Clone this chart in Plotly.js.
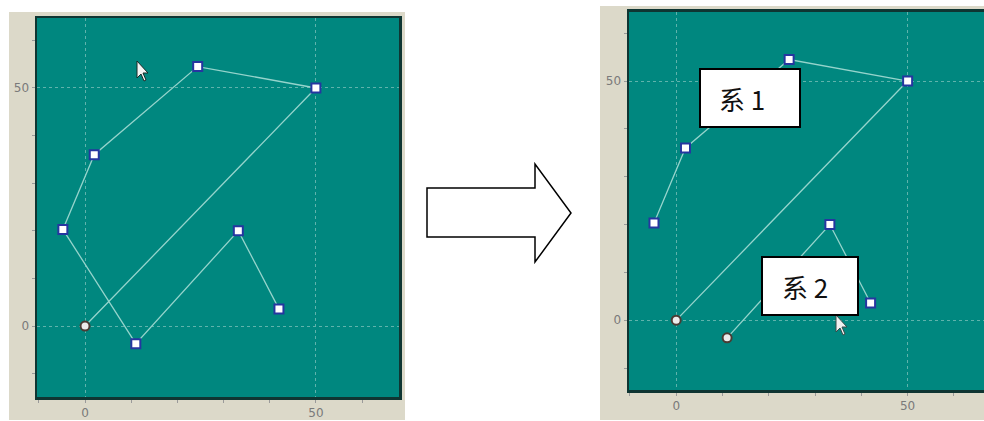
<!DOCTYPE html>
<html>
<head>
<meta charset="utf-8">
<script src="https://cdn.plot.ly/plotly-3.0.1.min.js"></script>
<style>html,body{margin:0;padding:0;background:#fff}#chart{width:984px;height:421px}</style>
</head>
<body>
<div id="chart"></div>
<script>
// Series 1 (upper polygon) and series 2 (lower zig-zag)
const series1X = [0, 50, 24.4, 2, -4.8];
const series1Y = [0, 50, 54.5, 36, 20.3];
const series2X = [11, 33.2, 42];
const series2Y = [-3.7, 20, 3.6];
const seriesLabels = ['系 1', '系 2'];
const tickVals = [0, 50];
const tickText = ['0', '50'];

const W = 984, H = 421;
const px = v => v / W;
const py = v => 1 - v / H;

const TEAL = '#00877f';
const BEIGE = '#dcd9c9';
const LINE = '#95d4cc';
const NAVY = '#2636a0';

function markerFor(n, startGrey) {
  const sym = [], fill = [], edge = [];
  for (let i = 0; i < n; i++) {
    if (i === 0 && startGrey) { sym.push('circle'); fill.push('#ececec'); edge.push('#4a3c34'); }
    else { sym.push('square'); fill.push('#ffffff'); edge.push(NAVY); }
  }
  return {symbol: sym, color: fill, size: 9, line: {color: edge, width: 2}};
}

const leftX = series1X.concat(series2X);
const leftY = series1Y.concat(series2Y);

const traces = [
  {x: leftX, y: leftY, xaxis: 'x', yaxis: 'y', mode: 'lines+markers', type: 'scatter',
   line: {color: LINE, width: 1.3}, marker: markerFor(leftX.length, true), hoverinfo: 'skip'},
  {x: series1X, y: series1Y, xaxis: 'x2', yaxis: 'y2', mode: 'lines+markers', type: 'scatter',
   line: {color: LINE, width: 1.3}, marker: markerFor(series1X.length, true), hoverinfo: 'skip'},
  {x: series2X, y: series2Y, xaxis: 'x2', yaxis: 'y2', mode: 'lines+markers', type: 'scatter',
   line: {color: LINE, width: 1.3}, marker: markerFor(series2X.length, true), hoverinfo: 'skip'}
];

const tickFont = {family: 'DejaVu Sans, sans-serif', size: 12, color: '#7a7a7a'};
function axis(range, domain, mirror) {
  return {
    range: range, domain: domain, tickmode: 'array', tickvals: tickVals, ticktext: tickText,
    showgrid: true, gridcolor: '#5fb3ac', griddash: '3px,3px', gridwidth: 1,
    zeroline: false, showline: true, linecolor: '#0f3532', linewidth: 2.5, mirror: mirror,
    ticks: 'outside', ticklen: 3, tickcolor: '#9a9a9a', tickfont: tickFont,
    minor: {dtick: 10, tick0: 0, ticks: 'outside', ticklen: 3, tickcolor: '#9a9a9a', showgrid: false},
    fixedrange: true
  };
}

function arrowPath() {
  const pts = [[427,188],[535,188],[535,164],[571,213],[535,262],[535,237],[427,237]];
  return 'M' + pts.map(p => px(p[0]) + ',' + py(p[1])).join(' L') + ' Z';
}
function cursorPath(tx, ty) {
  const pts = [[0,0],[0,17],[4,13],[7,20],[9,19],[6,12],[11,12]];
  return 'M' + pts.map(p => px(tx + p[0]) + ',' + py(ty + p[1])).join(' L') + ' Z';
}

const shapes = [
  {type: 'rect', xref: 'paper', yref: 'paper', x0: px(9), x1: px(405), y0: py(420), y1: py(12),
   fillcolor: BEIGE, line: {width: 0}, layer: 'below'},
  {type: 'rect', xref: 'paper', yref: 'paper', x0: px(600), x1: px(984), y0: py(420), y1: py(6),
   fillcolor: BEIGE, line: {width: 0}, layer: 'below'},
  {type: 'rect', xref: 'paper', yref: 'paper', x0: px(37), x1: px(399), y0: py(397), y1: py(18),
   fillcolor: TEAL, line: {width: 0}, layer: 'below'},
  {type: 'rect', xref: 'paper', yref: 'paper', x0: px(629), x1: px(984), y0: py(390), y1: py(11.7),
   fillcolor: TEAL, line: {width: 0}, layer: 'below'},
  {type: 'path', xref: 'paper', yref: 'paper', path: arrowPath(), fillcolor: '#ffffff',
   line: {color: '#000', width: 1.5}},
  {type: 'path', xref: 'paper', yref: 'paper', path: cursorPath(137, 61), fillcolor: '#f4f4f4',
   line: {color: '#1a2a28', width: 1}},
  {type: 'path', xref: 'paper', yref: 'paper', path: cursorPath(836, 315), fillcolor: '#f0f0f0',
   line: {color: '#3a4a48', width: 1}},
  {type: 'rect', xref: 'paper', yref: 'paper', x0: px(700), x1: px(800), y0: py(127), y1: py(69),
   fillcolor: '#ffffff', line: {color: '#000', width: 2}},
  {type: 'rect', xref: 'paper', yref: 'paper', x0: px(762), x1: px(858), y0: py(315), y1: py(257),
   fillcolor: '#ffffff', line: {color: '#000', width: 2}}
];

const labelFont = {family: 'Noto Sans CJK SC, Noto Sans, sans-serif', size: 26, color: '#111', weight: 400};
const annotations = [
  {xref: 'paper', yref: 'paper', x: px(742), y: py(98), text: seriesLabels[0], showarrow: false,
   font: labelFont, xanchor: 'center', yanchor: 'middle'},
  {xref: 'paper', yref: 'paper', x: px(805), y: py(286), text: seriesLabels[1], showarrow: false,
   font: labelFont, xanchor: 'center', yanchor: 'middle'}
];

const layout = {
  width: W, height: H, margin: {l: 0, r: 0, t: 0, b: 0},
  paper_bgcolor: '#ffffff', plot_bgcolor: 'rgba(0,0,0,0)', showlegend: false,
  xaxis: axis([-10.4, 68], [px(37), px(399)], true),
  yaxis: axis([-14.9, 64.7], [py(397), py(18)], true),
  xaxis2: axis([-10.2, 66.5], [px(629), 1], true),
  yaxis2: axis([-14.6, 64.5], [py(390), py(11.7)], false),
  shapes: shapes, annotations: annotations
};
layout.yaxis.anchor = 'x';
layout.xaxis.anchor = 'y';
layout.xaxis2.anchor = 'y2';
layout.yaxis2.anchor = 'x2';

Plotly.newPlot('chart', traces, layout, {staticPlot: true, displayModeBar: false});
</script>
</body>
</html>
